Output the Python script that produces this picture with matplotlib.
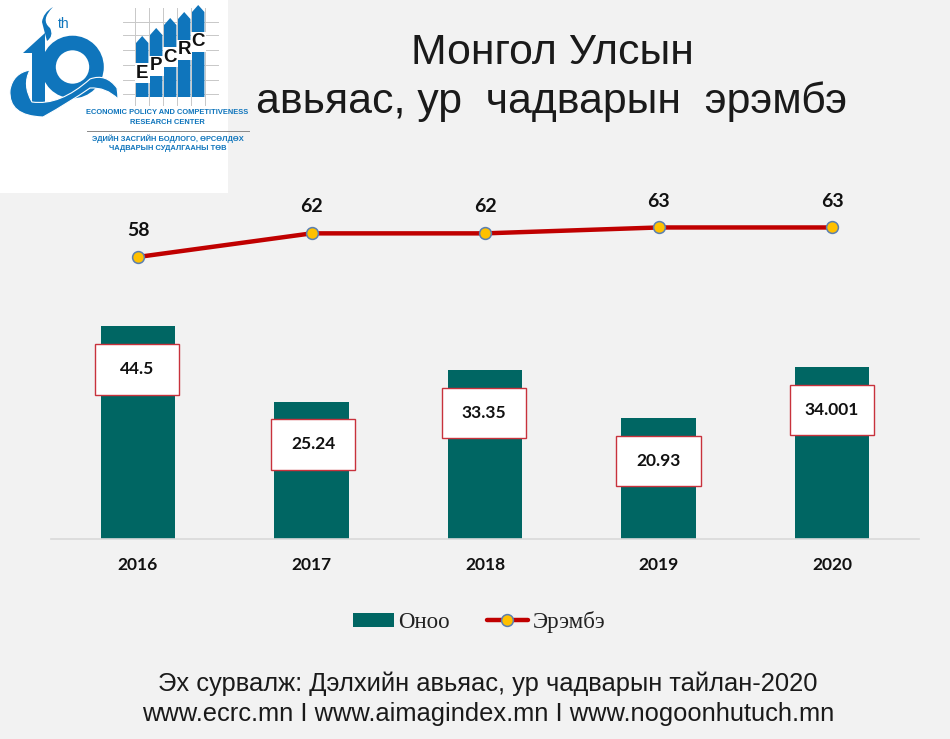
import numpy as np
import matplotlib
matplotlib.use('Agg')
import matplotlib.pyplot as plt
from matplotlib.patches import Rectangle, Polygon, PathPatch, Circle
from matplotlib.path import Path

years = ['2016', '2017', '2018', '2019', '2020']
score = [44.5, 25.24, 33.35, 20.93, 34.001]
score_labels = ['44.5', '25.24', '33.35', '20.93', '34.001']
rank = [58, 62, 62, 63, 63]

W, H = 950, 739
BG = '#f2f2f2'
TEAL = '#006663'
RED = '#c00000'
BLUE = '#0f75bc'
LABEL_FONT = ['Lato', 'DejaVu Sans']

fig = plt.figure(figsize=(W / 100, H / 100), dpi=100, facecolor=BG)

# chart area, in pixels of the picture
left, right, top, bottom = 51.25, 918.75, 190, 539
ax = fig.add_axes([left / W, 1 - bottom / H, (right - left) / W, (bottom - top) / H])
ax.set_facecolor('none')
score_min = -10
ax.set_ylim(score_min, 79.5)
ax.set_xlim(-0.5, 4.5)
x = np.arange(len(years))
bars = ax.bar(x, np.array(score) - score_min, bottom=score_min, width=0.427, color=TEAL, label='Оноо', zorder=2)

# white value boxes sit a little below each bar top, not quite centred on it
box_w, box_h = 0.485, 12.9
box_shift = [-0.005, 0.01, -0.005, 0.0, 0.0]
for xi, v, s, dx in zip(x, score, score_labels, box_shift):
    cy = v - 11
    ax.add_patch(Rectangle((xi + dx - box_w / 2, cy - box_h / 2), box_w, box_h, fc='white', ec='#c8323c', lw=1.0, zorder=3))
    ax.text(xi + dx, cy, s, ha='center', va='center', fontsize=12.5, fontweight='bold', family=LABEL_FONT, color='#111111', zorder=4)

ax.set_xticks(x)
ax.set_xticklabels(years, fontsize=12.5, fontweight='bold', family=LABEL_FONT, color='#111111')
ax.tick_params(axis='x', length=0, pad=13)
ax.set_yticks([])
for s in ['top', 'left', 'right']:
    ax.spines[s].set_visible(False)
ax.spines['bottom'].set_color('#d9d9d9')
ax.spines['bottom'].set_linewidth(1.2)

ax2 = ax.twinx()
ax2.set_facecolor('none')
ax2.set_ylim(10.2, 69.35)
ax2.set_yticks([])
for s in ax2.spines.values():
    s.set_visible(False)
line, = ax2.plot(x, rank, color=RED, lw=3.2, marker='o', ms=8.5, mfc='#ffc000', mec='#5b7fb0', mew=1.1,
                 solid_capstyle='round', label='Эрэмбэ', zorder=5)
for xi, r in zip(x, rank):
    ax2.annotate(str(r), (xi, r), xytext=(0, 19), textcoords='offset points', ha='center', va='center',
                 fontsize=14, fontweight='bold', family=LABEL_FONT, color='#111111')

leg = fig.legend(handles=[bars, line], loc='center', bbox_to_anchor=(479 / W, 1 - 622 / H), ncol=2, frameon=False,
                 prop={'family': 'Liberation Serif', 'size': 16.5}, handlelength=1.8, handleheight=0.55,
                 handletextpad=0.2, columnspacing=1.6, labelcolor='#222222')

# overlay in picture pixels for title, source and logo
top_ov = fig.add_axes([0, 0, 1, 1], zorder=10)
top_ov.set_xlim(0, W)
top_ov.set_ylim(H, 0)
top_ov.axis('off')
top_ov.patch.set_alpha(0)

sans = 'Liberation Sans'
top_ov.text(552, 53, 'Монгол Улсын', ha='center', va='center', family=sans, fontsize=30.8, color='#1a1a1a')
top_ov.text(552, 102, 'авьяас, ур  чадварын  эрэмбэ', ha='center', va='center', family=sans, fontsize=30.8, color='#1a1a1a')
top_ov.text(488, 684, 'Эх сурвалж: Дэлхийн авьяас, ур чадварын тайлан-2020', ha='center', va='center', family=sans, fontsize=18.4, color='#1a1a1a')
top_ov.text(488, 714, 'www.ecrc.mn I www.aimagindex.mn I www.nogoonhutuch.mn', ha='center', va='center', family=sans, fontsize=18.4, color='#1a1a1a')

# logo
top_ov.add_patch(Rectangle((0, 0), 228, 193, fc='white', ec='none', zorder=0))
for gx in [135, 149, 163, 177, 191, 205]:
    top_ov.plot([gx, gx], [8, 105], color='#c8c8c8', lw=0.7, zorder=1)
for gy in [22, 35, 50, 65, 80, 94]:
    top_ov.plot([123, 218], [gy, gy], color='#c8c8c8', lw=0.7, zorder=1)
bar_x = [136, 150, 164, 178, 192]
bar_tip = [36, 28, 18, 12, 5]
letters = ['E', 'P', 'C', 'R', 'C']
letter_y = [73, 66, 57, 50, 42]
for bx, tip, ch, ly in zip(bar_x, bar_tip, letters, letter_y):
    top_ov.add_patch(Polygon([(bx, 97), (bx, tip + 7), (bx + 6.2, tip), (bx + 12.4, tip + 7), (bx + 12.4, 97)], fc=BLUE, ec='none', zorder=2))
    top_ov.add_patch(Rectangle((bx - 1, ly - 10), 15, 20, fc='white', ec='none', zorder=3))
    top_ov.text(bx + 6.2, ly, ch, ha='center', va='center', family=sans, fontweight='bold', fontsize=13.5, color='#111111', zorder=4)

# the big 10 with its wave
top_ov.add_patch(Circle((72.5, 67), 24, fc='none', ec=BLUE, lw=10.5, zorder=2))
top_ov.add_patch(Polygon([(32, 103), (32, 53), (23, 53), (45, 33), (45, 103)], fc=BLUE, ec='none', zorder=2))
wave = Path([(10, 90), (13, 73), (30, 70), (22, 85), (32, 102), (60, 106), (90, 79), (106, 73), (117, 88), (118, 94), (118, 99),
             (106, 87), (90, 88), (70, 102), (43, 117), (8, 116), (10, 90)],
            [Path.MOVETO] + [Path.CURVE3] * 16)
top_ov.add_patch(PathPatch(wave, fc=BLUE, ec='white', lw=0.8, zorder=3))
flame = Path([(53, 7), (40, 20), (50, 28), (54, 36), (47, 41), (44, 30), (42, 22), (43, 13), (53, 7)],
             [Path.MOVETO] + [Path.CURVE3] * 8)
top_ov.add_patch(PathPatch(flame, fc=BLUE, ec='none', zorder=2))
top_ov.text(64, 24, 'th', ha='center', va='center', family=sans, fontsize=10, color=BLUE)

top_ov.text(167.5, 113, 'ECONOMIC POLICY AND COMPETITIVENESS', ha='center', va='center', family=sans, fontweight='bold', fontsize=5.4, color=BLUE)
top_ov.text(167.5, 122, 'RESEARCH CENTER', ha='center', va='center', family=sans, fontweight='bold', fontsize=5.4, color=BLUE)
top_ov.plot([87, 249], [130.5, 130.5], color='#888888', lw=0.7)
top_ov.text(167.5, 139, 'ЭДИЙН ЗАСГИЙН БОДЛОГО, ӨРСӨЛДӨХ', ha='center', va='center', family=sans, fontweight='bold', fontsize=5.4, color=BLUE)
top_ov.text(167.5, 148, 'ЧАДВАРЫН СУДАЛГААНЫ ТӨВ', ha='center', va='center', family=sans, fontweight='bold', fontsize=5.4, color=BLUE)

fig.savefig('out.png', dpi=100, facecolor=BG)
